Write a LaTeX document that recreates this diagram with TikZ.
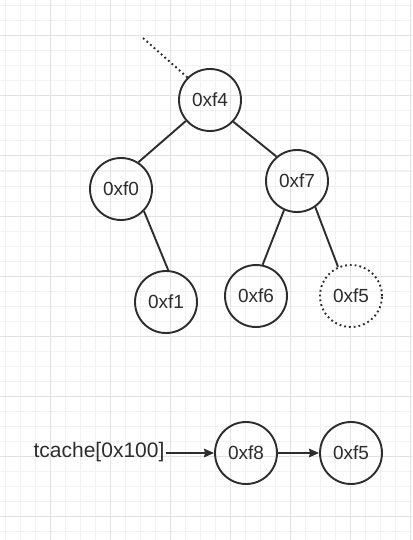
\documentclass[tikz,border=0pt]{standalone}
\usepackage{fontspec}
\setmainfont{Liberation Sans}
\usetikzlibrary{arrows.meta}
\definecolor{InkGray}{RGB}{45,45,45}
\definecolor{GridMinor}{RGB}{241,241,241}
\definecolor{GridMajor}{RGB}{226,226,226}

\begin{document}
\begin{tikzpicture}[x=1pt,y=-1pt,>={Stealth[length=10pt,width=8.5pt,inset=1pt]},
  chunk/.style={circle,draw=InkGray,line width=1.9pt,minimum size=62pt,inner sep=0pt,font=\fontsize{19}{21}\selectfont,text=InkGray},
  link/.style={draw=InkGray,line width=1.9pt},
  dots/.style={dash pattern=on 1.8pt off 3pt}]
\useasboundingbox (0,0) rectangle (412,540);
\fill[white] (0,0) rectangle (412,540);
% grid
\foreach \x in {5,20,...,410} \draw[GridMinor,line width=1pt] (\x,0) -- (\x,540);
\foreach \y in {6,21,...,540} \draw[GridMinor,line width=1pt] (0,\y) -- (412,\y);
\foreach \x in {50,110,...,410} \draw[GridMajor,line width=1pt] (\x,0) -- (\x,540);
\foreach \y in {36,96,...,540} \draw[GridMajor,line width=1pt] (0,\y) -- (412,\y);
% tree of chunks
\node[chunk] (f4) at (210,100) {0xf4};
\node[chunk] (f0) at (121,189) {0xf0};
\node[chunk] (f1) at (166,302) {0xf1};
\node[chunk] (f7) at (297,181) {0xf7};
\node[chunk] (f6) at (256,296) {0xf6};
\node[chunk,dots] (f5) at (351,296) {0xf5};
\coordinate (root) at (143,38);
\draw[link,dots] (root) -- (f4.135);
\draw[link] (f4.221) -- (f0.57);
\draw[link] (f4.-43) -- (f7.130);
\draw[link] (f0.-44) -- (f1.86);
\draw[link] (f7.-114) -- (f6.78);
\draw[link] (f7.-55) -- (f5.114);
% tcache list
\node[font=\fontsize{21}{23}\selectfont,text=InkGray,inner sep=1pt] (bin) at (99,452) {tcache[0x100]};
\node[chunk] (f8) at (246,453) {0xf8};
\node[chunk] (nxt) at (351,453) {0xf5};
\draw[link,->] (bin.east |- f8) -- (f8);
\draw[link,->] (f8) -- (nxt);
\end{tikzpicture}
\end{document}
